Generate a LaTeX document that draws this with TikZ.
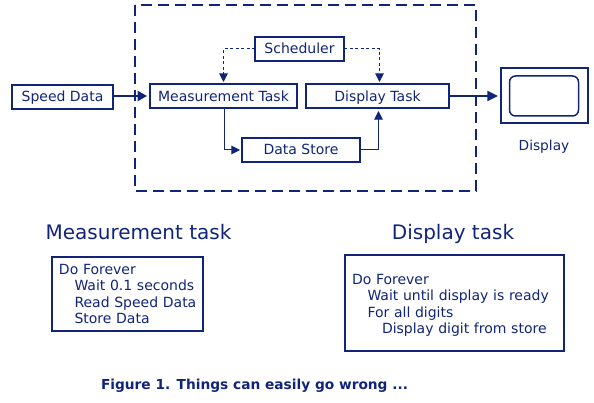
\documentclass[tikz,border=0pt]{standalone}
\usepackage{fontspec}
\setmainfont{DejaVu Sans}
\usetikzlibrary{arrows.meta,calc}
\definecolor{navy}{HTML}{10247A}
\newdimen\upx \upx=0.75pt
\tikzset{
  box/.style args={#1x#2}{draw=navy,text=navy,line width=2\upx,minimum width=#1\upx,minimum height=#2\upx,inner sep=0pt,outer sep=0pt,font=\fontsize{10.5pt}{12pt}\selectfont,text height=9.5pt,text depth=2pt},
  listing/.style={align=left,font=\fontsize{10.5pt}{12.4pt}\selectfont,inner xsep=7\upx,text height=,text depth=},
  lbl/.style={text=navy,inner sep=0pt,anchor=base,font=\fontsize{10.3pt}{12pt}\selectfont},
  headtext/.style={text=navy,inner sep=0pt,anchor=base,font=\fontsize{15pt}{18pt}\selectfont},
  captext/.style={text=navy,inner sep=0pt,anchor=base,font=\fontsize{10.3pt}{12pt}\selectfont\bfseries},
  thick link/.style={draw=navy,line width=2\upx,shorten >=3\upx,-{Triangle[length=#1pt,width=7.5pt]}},
  thin link/.style={draw=navy,line width=1\upx,shorten >=2\upx,-{Triangle[length=6.5pt,width=6.5pt]}},
  dash link/.style={draw=navy,line width=1\upx,dash pattern=on 3\upx off 2.5\upx,shorten >=2\upx,-{Triangle[length=6.5pt,width=6.5pt]}},
}
\begin{document}
\begin{tikzpicture}[x=0.75pt,y=-0.75pt]
\useasboundingbox (0,0) rectangle (594,403);
\draw[draw=navy,line width=2\upx,dash pattern=on 11\upx off 6\upx] (135,5) rectangle (476,191);
\node[box=101x24] (sd) at (62.5,97) {Speed Data};
\node[box=89x24] (sch) at (299.5,49) {Scheduler};
\node[box=147x24,text height=11pt] (mt) at (223.5,96) {Measurement Task};
\node[box=143x24,text height=11pt] (dt) at (377.5,96) {Display Task};
\node[box=118x24] (ds) at (301,150) {Data Store};
\node[box=87x55] (dp) at (544.5,95.5) {};
\node[draw=navy,line width=1.5\upx,rounded corners=6\upx,minimum width=69\upx,minimum height=40\upx,inner sep=0pt] (scr) at (544,96) {};
\node[lbl] (dl) at (544,151) {Display};
\node[headtext] (h1) at (138.5,240) {Measurement task};
\node[headtext] (h2) at (453,240) {Display task};
\node[box=151x74,listing,text width=137\upx] (l1) at (127.5,294) {Do Forever\\\mbox{\hspace*{15.5\upx}Wait 0.1 seconds}\\\mbox{\hspace*{15.5\upx}Read Speed Data}\\\mbox{\hspace*{15.5\upx}Store Data}};
\node[box=219x96,listing,text width=205\upx] (l2) at (454.5,303) {\rule{0pt}{11pt}Do Forever\\\mbox{\hspace*{15.5\upx}Wait until display is ready}\\\mbox{\hspace*{15.5\upx}For all digits}\\\mbox{\hspace*{30\upx}Display digit from store}};
\node[captext] (fig) at (254.5,389) {Figure 1. Things can easily go wrong ...};
\draw[thick link=7] (sd.east |- mt.west) -- (mt.west);
\draw[thick link=8] (dt.east) -- (dt.east -| dp.west);
\draw[thin link] ($(mt.south)+(1,0)$) |- (ds.west);
\draw[thin link,shorten >=3\upx] (ds.east) -| ($(dt.south)+(1,0)$);
\draw[dash link] (sch.west) -| (mt.north);
\draw[dash link] (sch.east) -| ($(dt.north)+(2,0)$);
\end{tikzpicture}
\end{document}
